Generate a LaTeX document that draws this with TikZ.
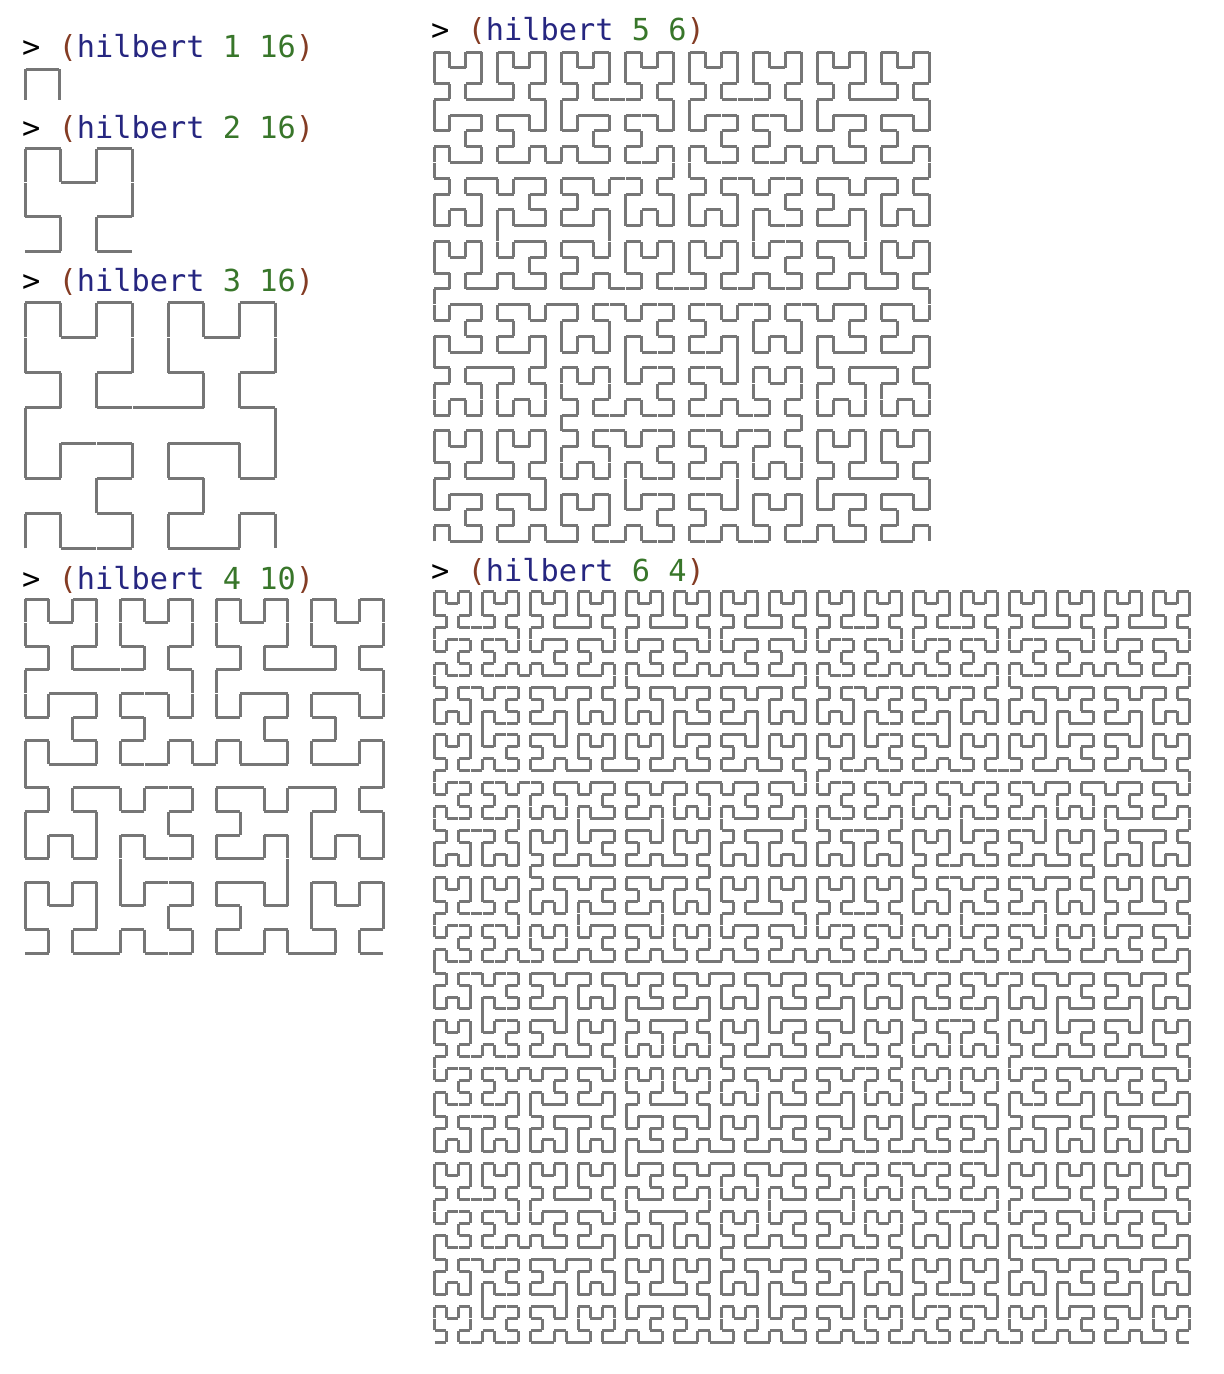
\documentclass[tikz,border=0pt]{standalone}
\usepackage{fontspec}
\newfontfamily\hmono{DejaVu Sans Mono}
\definecolor{parbrown}{RGB}{132,60,36}
\definecolor{symnavy}{RGB}{38,38,128}
\definecolor{numgreen}{RGB}{56,118,42}
\definecolor{curvegray}{RGB}{118,118,118}
\newcount\hpx \newcount\hpy \newcount\hdx \newcount\hdy \newcount\htmp
\newdimen\hgap \hgap=0.2pt
\def\hL{\htmp=\hdx \hdx=-\hdy \hdy=\htmp\relax}
\def\hR{\htmp=\hdx \hdx=\hdy \hdy=-\htmp\relax}
\def\hF{\pgfpathmoveto{\pgfpointadd{\pgfqpointxy{\the\hpx}{\the\hpy}}{\pgfqpoint{\hdx\hgap}{\hdy\hgap}}}%
  \advance\hpx\hdx \advance\hpy\hdy
  \pgfpathlineto{\pgfpointadd{\pgfqpointxy{\the\hpx}{\the\hpy}}{\pgfqpoint{-\hdx\hgap}{-\hdy\hgap}}}%
  \pgfusepath{stroke}}
\def\hA#1{\ifnum#1>0 \expandafter\hAx\expandafter{\the\numexpr#1-1\relax}\fi}
\def\hB#1{\ifnum#1>0 \expandafter\hBx\expandafter{\the\numexpr#1-1\relax}\fi}
\def\hAx#1{\hL\hB{#1}\hF\hR\hA{#1}\hF\hA{#1}\hR\hF\hB{#1}\hL}
\def\hBx#1{\hR\hA{#1}\hF\hL\hB{#1}\hF\hB{#1}\hL\hF\hA{#1}\hR}
\def\hilbertcurve#1{\hpx=0 \hpy=0 \hdx=1 \hdy=0 \hA{#1}}
\tikzset{
  hcurve/.style={line width=3.0pt, color=curvegray, line cap=butt, line join=miter},
  prompt/.style={anchor=base west, inner sep=0pt, font=\hmono\fontsize{30.3}{36}\selectfont}
}
\newcommand{\hcall}[2]{>\ \textcolor{parbrown}{(}\textcolor{symnavy}{hilbert}\ \textcolor{numgreen}{#1\ #2}\textcolor{parbrown}{)}}
\begin{document}
\begin{tikzpicture}[x=1pt,y=-1pt]
\useasboundingbox[fill=white] (0,0) rectangle (1224,1374);
% prompts
\node[prompt] (t1) at (22,57) {\hcall{1}{16}};
\node[prompt] (t2) at (22,138) {\hcall{2}{16}};
\node[prompt] (t3) at (22,291) {\hcall{3}{16}};
\node[prompt] (t4) at (22,589) {\hcall{4}{10}};
\node[prompt] (t5) at (431,40) {\hcall{5}{6}};
\node[prompt] (t6) at (431,581) {\hcall{6}{4}};
% curves
\begin{scope}[shift={(25.5,100)}, x=34pt, y=31pt, hcurve]
\hilbertcurve{1}
\end{scope}
\begin{scope}[shift={(25,251)}, x=35.83pt, y=34.17pt, hcurve]
\hilbertcurve{2}
\end{scope}
\begin{scope}[shift={(25,548.5)}, x=35.79pt, y=35.14pt, hcurve]
\hilbertcurve{3}
\end{scope}
\begin{scope}[shift={(25,953)}, x=23.9pt, y=23.6pt, hcurve]
\hilbertcurve{4}
\end{scope}
\begin{scope}[shift={(434,541.5)}, x=15.97pt, y=15.79pt, hcurve]
\hilbertcurve{5}
\end{scope}
\begin{scope}[shift={(434.5,1342.5)}, x=11.976pt, y=11.913pt, hcurve]
\hilbertcurve{6}
\end{scope}
\end{tikzpicture}
\end{document}
